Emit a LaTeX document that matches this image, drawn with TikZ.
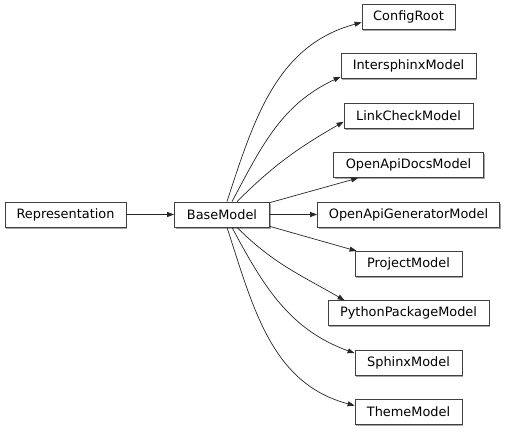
\documentclass[tikz,border=0pt]{standalone}
\usepackage{fontspec}
\setmainfont{DejaVu Sans}
\usetikzlibrary{arrows.meta,shadows}
\tikzset{
  >={Triangle[length=7pt,width=5pt]},
  cls/.style={draw=black!75,fill=white,line width=0.8pt,
              minimum height=25pt,inner sep=0pt,
              font=\fontsize{12.9}{15}\selectfont,
              drop shadow={shadow xshift=1.2pt,shadow yshift=-1.5pt,
                           fill=black!35,opacity=1}},
  inh/.style={->,draw=black!85,line width=0.7pt},
}

\begin{document}
\begin{tikzpicture}[x=1pt,y=-1pt]
\useasboundingbox (0,0) rectangle (505,431);
% root classes
\node[cls,minimum width=121pt] (repr) at (65.5,214.5) {Representation};
\node[cls,minimum width=95pt]  (base) at (222,214.5) {BaseModel};
% subclasses of BaseModel, one row each
\foreach \nm/\txt/\w/\k in {cfg/ConfigRoot/93/-4, isx/IntersphinxModel/135/-3,
    lck/LinkCheckModel/129/-2, dox/OpenApiDocsModel/150/-1,
    gen/OpenApiGeneratorModel/182/0, prj/ProjectModel/107/1,
    ppm/PythonPackageModel/161/2, sph/SphinxModel/107/3, thm/ThemeModel/107/4}
  {\node[cls,minimum width=\w pt] (\nm) at (408.5,214.5+49.4*\k) {\txt};}

% inheritance edges
\draw[inh] (repr) -- (base);
\draw[inh] ([xshift=5pt]base.north)  to[out=72,in=195]  ([yshift=-5.5pt]cfg.west);
\draw[inh] ([xshift=10pt]base.north) to[out=62,in=205]  ([yshift=-10.5pt]isx.west);
\draw[inh] ([xshift=15pt]base.north) to[out=45,in=210]  ([yshift=-6pt]lck.west);
\draw[inh] ([yshift=-1pt]base.north east) -- ([xshift=25pt]dox.south west);
\draw[inh] (base) -- (gen);
\draw[inh] ([yshift=1pt]base.south east) -- ([xshift=2pt]prj.north west);
\draw[inh] ([xshift=15pt]base.south) to[out=-45,in=150] ([xshift=17pt]ppm.north west);
\draw[inh] ([xshift=10pt]base.south) to[out=-62,in=160] ([yshift=9.5pt]sph.west);
\draw[inh] ([xshift=5pt]base.south)  to[out=-72,in=165] ([yshift=6.5pt]thm.west);
\end{tikzpicture}
\end{document}
